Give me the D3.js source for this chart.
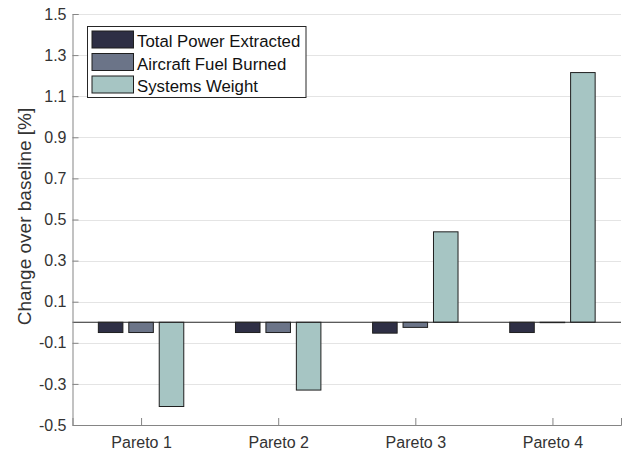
<!DOCTYPE html>
<html>
<head>
<meta charset="utf-8">
<script src="https://cdn.jsdelivr.net/npm/d3@7"></script>
<style>
  body { margin: 0; background: #fff; }
  svg text { font-family: "Liberation Sans", Arial, sans-serif; }
</style>
</head>
<body>
<div id="chart"></div>
<script>
// DATA
const categories = ["Pareto 1", "Pareto 2", "Pareto 3", "Pareto 4"];
const seriesNames = ["Total Power Extracted", "Aircraft Fuel Burned", "Systems Weight"];
const totalPower = [-0.05, -0.05, -0.053, -0.05];
const fuelBurned = [-0.05, -0.05, -0.025, -0.002];
const systemsWeight = [-0.41, -0.33, 0.44, 1.215];
const yTicks = [-0.5, -0.3, -0.1, 0.1, 0.3, 0.5, 0.7, 0.9, 1.1, 1.3, 1.5];

const series = [totalPower, fuelBurned, systemsWeight];
const colors = ["#2e2f45", "#6b7488", "#a6c5c3"];

const width = 627;
const height = 451;

const svg = d3.select("#chart")
  .append("svg")
  .attr("width", width)
  .attr("height", height);

// SCALES
const x = d3.scaleLinear().domain([0.5, 4.5]).range([72.5, 621]);
const y = d3.scaleLinear().domain([-0.5, 1.5]).range([425, 14]);

const offsets = [-0.222, 0, 0.222];
const barW = 0.179;

// GRID
svg.append("g")
  .selectAll("line")
  .data(yTicks)
  .enter()
  .append("line")
  .attr("x1", x(0.5))
  .attr("x2", x(4.5))
  .attr("y1", d => Math.round(y(d)) + 0.5)
  .attr("y2", d => Math.round(y(d)) + 0.5)
  .attr("stroke", "#e4e4e4")
  .attr("stroke-width", 1);

// BARS
series.forEach((vals, s) => {
  svg.append("g")
    .selectAll("rect")
    .data(vals)
    .enter()
    .append("rect")
    .attr("x", (d, i) => x(i + 1 + offsets[s] - barW / 2))
    .attr("width", x(barW) - x(0))
    .attr("y", d => y(Math.max(0, d)))
    .attr("height", d => Math.abs(y(d) - y(0)))
    .attr("fill", colors[s])
    .attr("stroke", "#1f1f1f")
    .attr("stroke-width", 1);
});

// BASELINE
svg.append("line")
  .attr("x1", x(0.5))
  .attr("x2", x(4.5))
  .attr("y1", y(0))
  .attr("y2", y(0))
  .attr("stroke", "#262626")
  .attr("stroke-width", 1);

// AXES
const yAxis = svg.append("g")
  .attr("transform", `translate(${x(0.5)},0)`)
  .call(d3.axisRight(y).tickValues(yTicks).tickSize(6).tickFormat(d => d.toFixed(1)));

yAxis.select(".domain").attr("stroke", "#858585");
yAxis.selectAll(".tick line").attr("stroke", "#858585");
yAxis.selectAll(".tick text")
  .attr("x", -6)
  .attr("text-anchor", "end")
  .attr("fill", "#333")
  .style("font-size", "16px");

const xAxis = svg.append("g")
  .attr("transform", `translate(0,${y(-0.5)})`)
  .call(d3.axisTop(x).tickValues([1, 2, 3, 4]).tickSize(7).tickFormat((d, i) => categories[i]));

xAxis.select(".domain").attr("stroke", "#858585");
xAxis.selectAll(".tick line").attr("stroke", "#858585");
xAxis.selectAll(".tick text")
  .attr("y", 23)
  .attr("dy", 0)
  .attr("fill", "#333")
  .style("font-size", "16px");

// Y LABEL
svg.append("text")
  .attr("transform", `translate(31,${(y(1.5) + y(-0.5)) / 2 - 3}) rotate(-90)`)
  .attr("text-anchor", "middle")
  .attr("fill", "#333")
  .style("font-size", "19px")
  .text("Change over baseline [%]");

// LEGEND
const legend = svg.append("g").attr("transform", "translate(87.5,26.5)");

legend.append("rect")
  .attr("width", 218.5)
  .attr("height", 71)
  .attr("fill", "#fff")
  .attr("stroke", "#262626")
  .attr("stroke-width", 1);

const item = legend.selectAll(".item")
  .data(seriesNames)
  .enter()
  .append("g")
  .attr("transform", (d, i) => `translate(4.5,${4.5 + i * 22.5})`);

item.append("rect")
  .attr("width", 41.5)
  .attr("height", 17)
  .attr("fill", (d, i) => colors[i])
  .attr("stroke", "#1f1f1f");

item.append("text")
  .attr("x", 45)
  .attr("y", 16)
  .attr("fill", "#111")
  .style("font-size", "16.8px")
  .text(d => d);
</script>
</body>
</html>
